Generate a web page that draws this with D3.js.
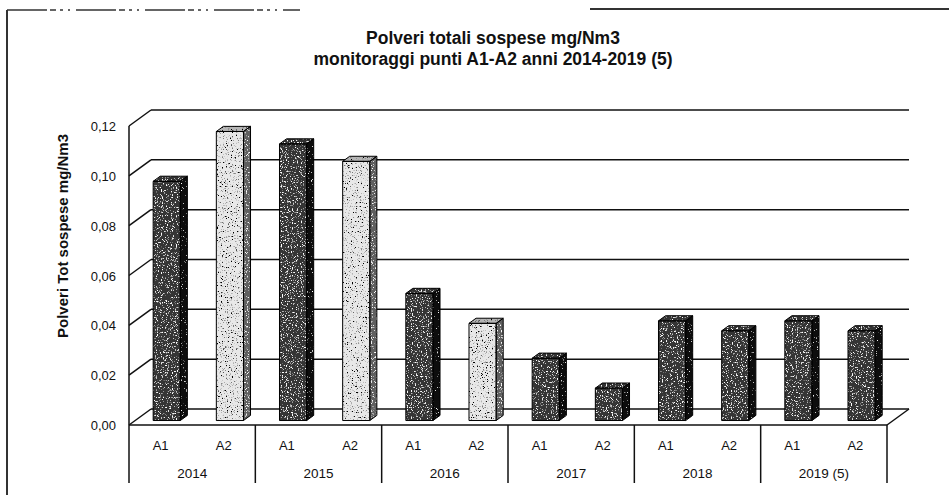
<!DOCTYPE html>
<html>
<head>
<meta charset="utf-8">
<script src="https://cdn.jsdelivr.net/npm/d3@7"></script>
<style>
  html, body { margin: 0; padding: 0; background: #fff; }
  svg { display: block; }
  text { font-family: "Liberation Sans", Arial, sans-serif; fill: #111; }
</style>
</head>
<body>
<svg id="chart" width="949" height="495"></svg>
<script>
// Monitoring campaigns, total suspended particulate (mg/Nm3)
const years = ["2014", "2015", "2016", "2017", "2018", "2019 (5)"];
const points = ["A1", "A2"];
const valuesA1 = [0.096, 0.111, 0.051, 0.025, 0.040, 0.040];
const valuesA2 = [0.116, 0.104, 0.039, 0.013, 0.036, 0.036];
const yTicks = [0, 0.02, 0.04, 0.06, 0.08, 0.10, 0.12];

const titleLines = ["Polveri totali sospese mg/Nm3", "monitoraggi punti A1-A2 anni 2014-2019 (5)"];
const yTitle = "Polveri Tot sospese mg/Nm3";

// A2 bars of the first three campaigns are drawn in the light shade
const lightYears = new Set(years.slice(0, 3));

const svg = d3.select("#chart");
const fmt = d => d3.format(".2f")(d).replace(".", ",");

// Front plane of the 3D box and the depth vector towards the back wall
const plotLeft = 129, plotRight = 887, plotBase = 425, plotTop = 126;
const DX = 22, DY = -16;
const d0 = 0.28, d1 = 0.6; // bar depth span inside the box

const rows = [];
years.forEach((yr, i) => {
  rows.push({ year: yr, point: "A1", value: valuesA1[i] });
  rows.push({ year: yr, point: "A2", value: valuesA2[i] });
});

const xGroup = d3.scaleBand().domain(years).range([plotLeft, plotRight]);
const xSub = d3.scaleBand().domain(points).range([0, xGroup.bandwidth()])
  .paddingInner(0.57).paddingOuter(0.285);
const y = d3.scaleLinear().domain([0, 0.12]).range([plotBase, plotTop]);

// ---- grain filters for the shaded faces
const defs = svg.append("defs");
function grain(id, color, slope, offset, seed) {
  const f = defs.append("filter").attr("id", id).attr("x", 0).attr("y", 0).attr("width", 1).attr("height", 1);
  f.append("feTurbulence").attr("type", "fractalNoise").attr("baseFrequency", 0.8)
    .attr("numOctaves", 2).attr("seed", seed).attr("result", "noise");
  const c = d3.color(color);
  const r = c.r / 255, g = c.g / 255, b = c.b / 255;
  f.append("feColorMatrix").attr("in", "noise").attr("type", "matrix")
    .attr("values", `0 0 0 0 ${r} 0 0 0 0 ${g} 0 0 0 0 ${b} ${slope} 0 0 0 ${offset}`)
    .attr("result", "specks");
  f.append("feComposite").attr("in", "specks").attr("in2", "SourceGraphic").attr("operator", "atop");
}
grain("grainWhite", "#ffffff", 7, -4.1, 4);
grain("grainWhiteSparse", "#ffffff", 7, -4.7, 9);
grain("grainBlack", "#000000", 7, -4.1, 6);

// ---- frame
const frame = svg.append("g").attr("stroke", "#333").attr("fill", "none");
frame.append("line").attr("x1", 7).attr("y1", 10).attr("x2", 7).attr("y2", 495).attr("stroke-width", 2);
frame.append("line").attr("x1", 7).attr("y1", 10).attr("x2", 300).attr("y2", 10).attr("stroke-width", 1.6).attr("stroke-dasharray", "40 3 6 4 3 5 2 6");
frame.append("line").attr("x1", 590).attr("y1", 9).attr("x2", 949).attr("y2", 9).attr("stroke-width", 2);

// ---- walls and gridlines
const grid = svg.append("g").attr("stroke", "#111").attr("stroke-width", 1.5).attr("fill", "none");
grid.selectAll("line.back").data(yTicks).join("line").attr("class", "back")
  .attr("x1", plotLeft + DX).attr("x2", plotRight + DX)
  .attr("y1", d => y(d) + DY).attr("y2", d => y(d) + DY);
grid.selectAll("line.side").data(yTicks).join("line").attr("class", "side")
  .attr("x1", plotLeft).attr("x2", plotLeft + DX)
  .attr("y1", d => y(d)).attr("y2", d => y(d) + DY);
grid.append("line").attr("x1", plotLeft).attr("x2", plotLeft).attr("y1", y(0.12)).attr("y2", plotBase);

// ---- bars
const barW = xSub.bandwidth();
const poly = p => "M" + p.map(q => q.join(",")).join("L") + "Z";
const bars = svg.append("g").selectAll("g").data(rows).join("g");
bars.each(function (d) {
  const g = d3.select(this);
  const light = d.point === "A2" && lightYears.has(d.year);
  const x0 = xGroup(d.year) + xSub(d.point) + d0 * DX;
  const x1 = x0 + barW;
  const yb = plotBase + d0 * DY;
  const yt = y(d.value) + d0 * DY;
  const ddx = (d1 - d0) * DX, ddy = (d1 - d0) * DY;
  const front = [[x0, yt], [x1, yt], [x1, yb], [x0, yb]];
  const side = [[x1, yt], [x1 + ddx, yt + ddy], [x1 + ddx, yb + ddy], [x1, yb]];
  const topF = [[x0, yt], [x0 + ddx, yt + ddy], [x1 + ddx, yt + ddy], [x1, yt]];
  g.append("path").attr("d", poly(side))
    .attr("fill", light ? "#5e5e5e" : "#0a0a0a")
    .attr("filter", light ? "url(#grainWhite)" : "url(#grainWhiteSparse)");
  g.append("path").attr("d", poly(topF))
    .attr("fill", light ? "#b5b5b5" : "#333")
    .attr("filter", light ? "url(#grainBlack)" : "url(#grainWhite)");
  g.append("path").attr("d", poly(front))
    .attr("fill", light ? "#e8e8e8" : "#363636")
    .attr("filter", light ? "url(#grainBlack)" : "url(#grainWhite)");
  const outline = g.append("g").attr("fill", "none").attr("stroke", "#000").attr("stroke-width", 1);
  outline.append("path").attr("d", poly(front));
  outline.append("path").attr("d", poly(side));
  outline.append("path").attr("d", poly(topF));
});

// ---- floor front edge and category table
const floor = svg.append("g").attr("stroke", "#111").attr("stroke-width", 1.5).attr("fill", "none");
floor.append("line").attr("x1", plotLeft).attr("x2", plotRight).attr("y1", plotBase).attr("y2", plotBase);
floor.append("line").attr("x1", plotRight).attr("x2", plotRight + DX).attr("y1", plotBase).attr("y2", plotBase + DY);
const bounds = years.map(yr => xGroup(yr)).concat([plotRight]);
floor.selectAll("line.sep").data(bounds).join("line").attr("class", "sep")
  .attr("x1", d => d).attr("x2", d => d).attr("y1", plotBase).attr("y2", 483);

// ---- y tick labels
svg.append("g").selectAll("text").data(yTicks).join("text")
  .attr("x", 116).attr("y", d => y(d) + 5)
  .attr("text-anchor", "end").attr("font-size", 13)
  .text(fmt);

// ---- category labels
svg.append("g").selectAll("text").data(rows).join("text")
  .attr("x", d => xGroup(d.year) + xSub(d.point) + barW / 2)
  .attr("y", 450).attr("text-anchor", "middle").attr("font-size", 13)
  .text(d => d.point);
svg.append("g").selectAll("text").data(years).join("text")
  .attr("x", d => xGroup(d) + xGroup.bandwidth() / 2)
  .attr("y", 478).attr("text-anchor", "middle").attr("font-size", 13.5)
  .text(d => d);

// ---- titles
svg.append("g").selectAll("text").data(titleLines).join("text")
  .attr("x", 493).attr("y", (d, i) => 44 + i * 21)
  .attr("text-anchor", "middle").attr("font-size", 17.5).attr("font-weight", "bold")
  .text(d => d);

svg.append("text")
  .attr("transform", "translate(68,236) rotate(-90)")
  .attr("text-anchor", "middle").attr("font-size", 15).attr("font-weight", "bold")
  .text(yTitle);
</script>
</body>
</html>
